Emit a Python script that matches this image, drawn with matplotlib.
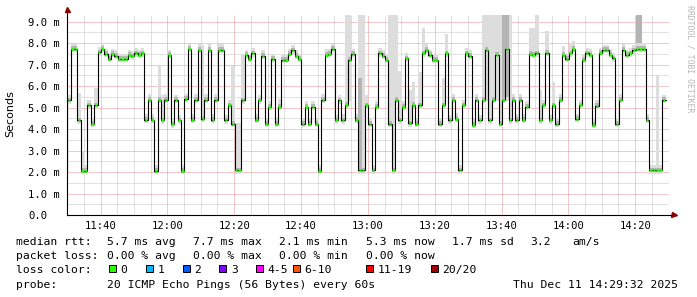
import numpy as np
import matplotlib
matplotlib.use("Agg")
import matplotlib.pyplot as plt
from matplotlib.patches import Rectangle

# ---- DATA ----
# one median RTT (ms) per 60 s step, first step starts 0.9 min before 11:30
first_step = -0.9
step_min = 1.0
median_ms = [
    2.06, 5.33, 7.72, 7.72, 4.40, 2.06, 2.06, 5.10, 4.23, 5.10,
    7.57, 7.75, 7.49, 7.27, 7.49, 7.41, 7.26, 7.26, 7.26, 7.44,
    7.38, 7.52, 7.44, 7.52, 4.43, 5.36, 4.43, 2.06, 5.36, 4.40,
    5.36, 7.44, 4.22, 5.36, 4.40, 2.06, 5.40, 7.72, 4.43, 5.36,
    7.69, 4.47, 5.36, 7.69, 4.43, 5.36, 7.69, 7.69, 4.40, 5.10,
    4.23, 2.08, 2.08, 5.33, 7.44, 7.26, 7.52, 4.43, 5.33, 7.41,
    4.23, 5.05, 7.26, 4.23, 5.05, 7.22, 7.22, 7.49, 7.66, 7.41,
    7.26, 4.23, 5.05, 4.23, 5.05, 4.23, 2.06, 5.36, 7.46, 7.49,
    7.72, 4.40, 5.33, 4.40, 5.12, 7.22, 7.49, 4.43, 2.08, 2.08,
    5.10, 4.23, 2.08, 5.05, 7.52, 7.41, 7.22, 4.23, 2.08, 5.36,
    4.40, 5.05, 7.29, 4.26, 5.12, 4.23, 5.10, 7.52, 7.69, 7.44,
    7.22, 7.22, 4.23, 5.10, 7.52, 4.40, 5.36, 4.48, 2.08, 5.10,
    7.52, 7.41, 4.20, 5.36, 4.40, 5.36, 7.69, 4.40, 5.36, 7.47,
    4.23, 5.36, 7.72, 4.40, 5.36, 4.43, 5.36, 4.43, 5.05, 7.50,
    7.46, 7.52, 4.40, 5.10, 7.53, 4.40, 5.10, 4.23, 5.36, 7.44,
    7.26, 7.52, 7.72, 4.47, 5.10, 7.22, 7.52, 7.47, 4.20, 5.08,
    7.53, 7.67, 7.67, 7.47, 7.29, 4.23, 5.36, 7.69, 7.44, 7.52,
    7.66, 7.74, 7.74, 7.74, 4.43, 2.08, 2.08, 2.08, 2.08, 5.36,
]

# steps where the smoke (spread of the 20 pings) reaches well above the median
smoke_top = {
    4: 5.7, 5: 3.0, 9: 5.9, 28: 7.0, 29: 5.6, 33: 5.6, 41: 7.9,
    50: 6.95, 51: 4.3, 52: 4.3, 53: 7.5, 64: 5.4, 83: 4.7,
    84: 9.5, 85: 9.5, 88: 9.5, 89: 9.5, 90: 5.6,
    97: 9.5, 98: 9.5, 99: 9.5, 100: 6.7, 103: 5.8, 104: 6.2,
    106: 6.67, 107: 8.7, 108: 7.95, 113: 6.36, 114: 8.43,
    125: 9.5, 126: 9.5, 127: 9.5, 128: 9.5, 129: 9.5, 130: 9.5,
    131: 9.5, 132: 9.5, 133: 9.5,
    139: 8.7, 140: 8.7, 141: 9.5, 142: 5.8, 144: 8.55, 146: 6.17,
    149: 7.85, 151: 8.0, 152: 8.1, 161: 7.9, 162: 7.9,
    171: 9.5, 172: 9.5, 177: 6.5, 179: 5.6,
}
# steps where the smoke reaches well below the median
smoke_low = {85: 5.3, 126: 5.3, 129: 5.3, 132: 5.3}
# denser part of the smoke (darker gray): step -> (low, high)
dense_smoke = {88: (2.08, 6.4), 131: (5.5, 9.5), 132: (5.5, 9.5),
               171: (8.0, 9.5), 172: (8.0, 9.5)}

xtick_min = [10, 30, 50, 70, 90, 110, 130, 150, 170]
xtick_labels = ["11:40", "12:00", "12:20", "12:40", "13:00",
                "13:20", "13:40", "14:00", "14:20"]
ytick_vals = [0, 1, 2, 3, 4, 5, 6, 7, 8, 9]
ytick_labels = ["0.0", "1.0 m", "2.0 m", "3.0 m", "4.0 m",
                "5.0 m", "6.0 m", "7.0 m", "8.0 m", "9.0 m"]

loss_labels = ["0", "1", "2", "3", "4-5", "6-10", "11-19", "20/20"]
loss_colors = ["#26ff00", "#00b8ff", "#0059ff", "#7e00ff",
               "#ff00ff", "#ff5500", "#ff0000", "#a10000"]

rtt_row = ["5.7 ms avg", "7.7 ms max", "2.1 ms min", "5.3 ms now",
           "1.7 ms sd", "3.2", "am/s"]
loss_row = ["0.00 % avg", "0.00 % max", "0.00 % min", "0.00 % now"]
probe_text = "20 ICMP Echo Pings (56 Bytes) every 60s"
date_text = "Thu Dec 11 14:29:32 2025"

# ---- STYLE ----
W, H = 697, 297
MONO = "DejaVu Sans Mono"
LIGHT = "#dddddd"
DARK = "#b4b4b4"
GREEN = "#26ff00"
ARROW = "#8b0000"


def fx(px):
    return px / W


def fy(py):
    return 1 - py / H


def main():
    med = np.array(median_ms)
    n = len(med)
    edges = first_step + np.arange(n + 1) * step_min

    lo = med - 0.15
    hi = med + 0.25
    for k, v in smoke_top.items():
        hi[k] = v
    for k, v in smoke_low.items():
        lo[k] = v

    fig = plt.figure(figsize=(W / 100, H / 100), dpi=100)
    fig.patch.set_facecolor("white")
    ax = fig.add_axes([fx(67.1), fy(215), fx(668.6) - fx(67.1),
                       (215 - 15.2) / H])
    ax.set_xlim(0, 180)
    ax.set_ylim(0, 9.3)

    # smoke
    ax.fill_between(edges, np.append(lo, lo[-1]), np.append(hi, hi[-1]),
                    step="post", color=LIGHT, lw=0, zorder=1)
    ax.fill_between(edges, np.append(med - 0.09, med[-1] - 0.09),
                    np.append(med + 0.13, med[-1] + 0.13),
                    step="post", color=DARK, lw=0, zorder=1.1)
    for k, (a, b) in dense_smoke.items():
        ax.bar(edges[k], b - a, bottom=a, width=step_min, align="edge",
               color=DARK, lw=0, zorder=1.05)

    # median line + loss colour dashes
    ax.step(edges, np.append(med, med[-1]), where="post",
            color="black", lw=0.8, zorder=3)
    ax.hlines(med, edges[:-1] + 0.12, edges[1:] - 0.12,
              color=GREEN, lw=1.8, zorder=4)

    # grid
    ax.set_xticks(xtick_min, labels=xtick_labels)
    ax.set_xticks(np.arange(0, 181, 5), minor=True)
    ax.set_yticks(ytick_vals, labels=[""] * len(ytick_vals))
    ax.set_yticks(np.arange(0.5, 9.3, 1.0), minor=True)
    ax.set_axisbelow(True)
    ax.grid(which="minor", color="#c4c4c4", lw=0.72, ls=(0, (1, 1)))
    ax.grid(which="major", color="#e89090", lw=0.72, ls=(0, (1, 1)))
    ax.tick_params(which="both", length=0)
    ax.tick_params(axis="x", pad=4.2, labelsize=7.6)
    for lab in ax.get_xticklabels():
        lab.set_fontfamily(MONO)
    for s in ax.spines.values():
        s.set_visible(False)

    # y labels
    ytr = ax.get_yaxis_transform()
    for v, s in zip(ytick_vals, ytick_labels):
        right = 60 if v else 47.7
        ax.text((right - 67.1) / 601.5, v, s, transform=ytr, ha="right",
                va="center_baseline", fontsize=7.6, family=MONO)

    # axes with arrows
    ax.plot([0, 1.006], [0, 0], transform=ax.transAxes, color="black",
            lw=0.8, clip_on=False, zorder=5)
    ax.plot([0, 0], [0, 1.022], transform=ax.transAxes, color="black",
            lw=0.8, clip_on=False, zorder=5)
    ax.plot(1.009, 0, marker=">", ms=3.6, color=ARROW, mec=ARROW,
            transform=ax.transAxes, clip_on=False, zorder=6)
    ax.plot(0, 1.03, marker="^", ms=3.6, color=ARROW, mec=ARROW,
            transform=ax.transAxes, clip_on=False, zorder=6)

    fig.text(fx(10), fy(114), "Seconds", rotation=90, ha="center",
             va="center", fontsize=8, family="DejaVu Sans")
    fig.text(fx(690), fy(5), "RRDTOOL / TOBI OETIKER", rotation=270,
             ha="center", va="top", fontsize=5.9, family=MONO,
             color="#b8b8b8")

    # legend block
    fs = 8.2
    fig.text(fx(16), fy(245), "median rtt:", fontsize=fs, family=MONO)
    for x, s in zip([107, 193, 279, 366, 452, 530, 572], rtt_row):
        fig.text(fx(x), fy(245), s, fontsize=fs, family=MONO)
    fig.text(fx(16), fy(259.3), "packet loss:", fontsize=fs, family=MONO)
    for x, s in zip([107, 193, 279, 366], loss_row):
        fig.text(fx(x), fy(259.3), s, fontsize=fs, family=MONO)
    fig.text(fx(16), fy(273.3), "loss color:", fontsize=fs, family=MONO)
    sw_x = [108.5, 145.7, 182.7, 219.3, 256, 292.7, 365.7, 430.7]
    for x, s, c in zip(sw_x, loss_labels, loss_colors):
        fig.add_artist(Rectangle((fx(x), fy(272)), 7 / W, 7 / H,
                                 transform=fig.transFigure, facecolor=c,
                                 edgecolor="black", lw=0.7))
        fig.text(fx(x + 11.5), fy(273.3), s, fontsize=fs, family=MONO)
    fig.text(fx(16), fy(287.7), "probe:", fontsize=fs, family=MONO)
    fig.text(fx(107), fy(287.7), probe_text, fontsize=fs, family=MONO)
    fig.text(fx(513), fy(287.7), date_text, fontsize=fs, family=MONO)

    fig.savefig("out.png", dpi=100, facecolor="white")


if __name__ == "__main__":
    main()
